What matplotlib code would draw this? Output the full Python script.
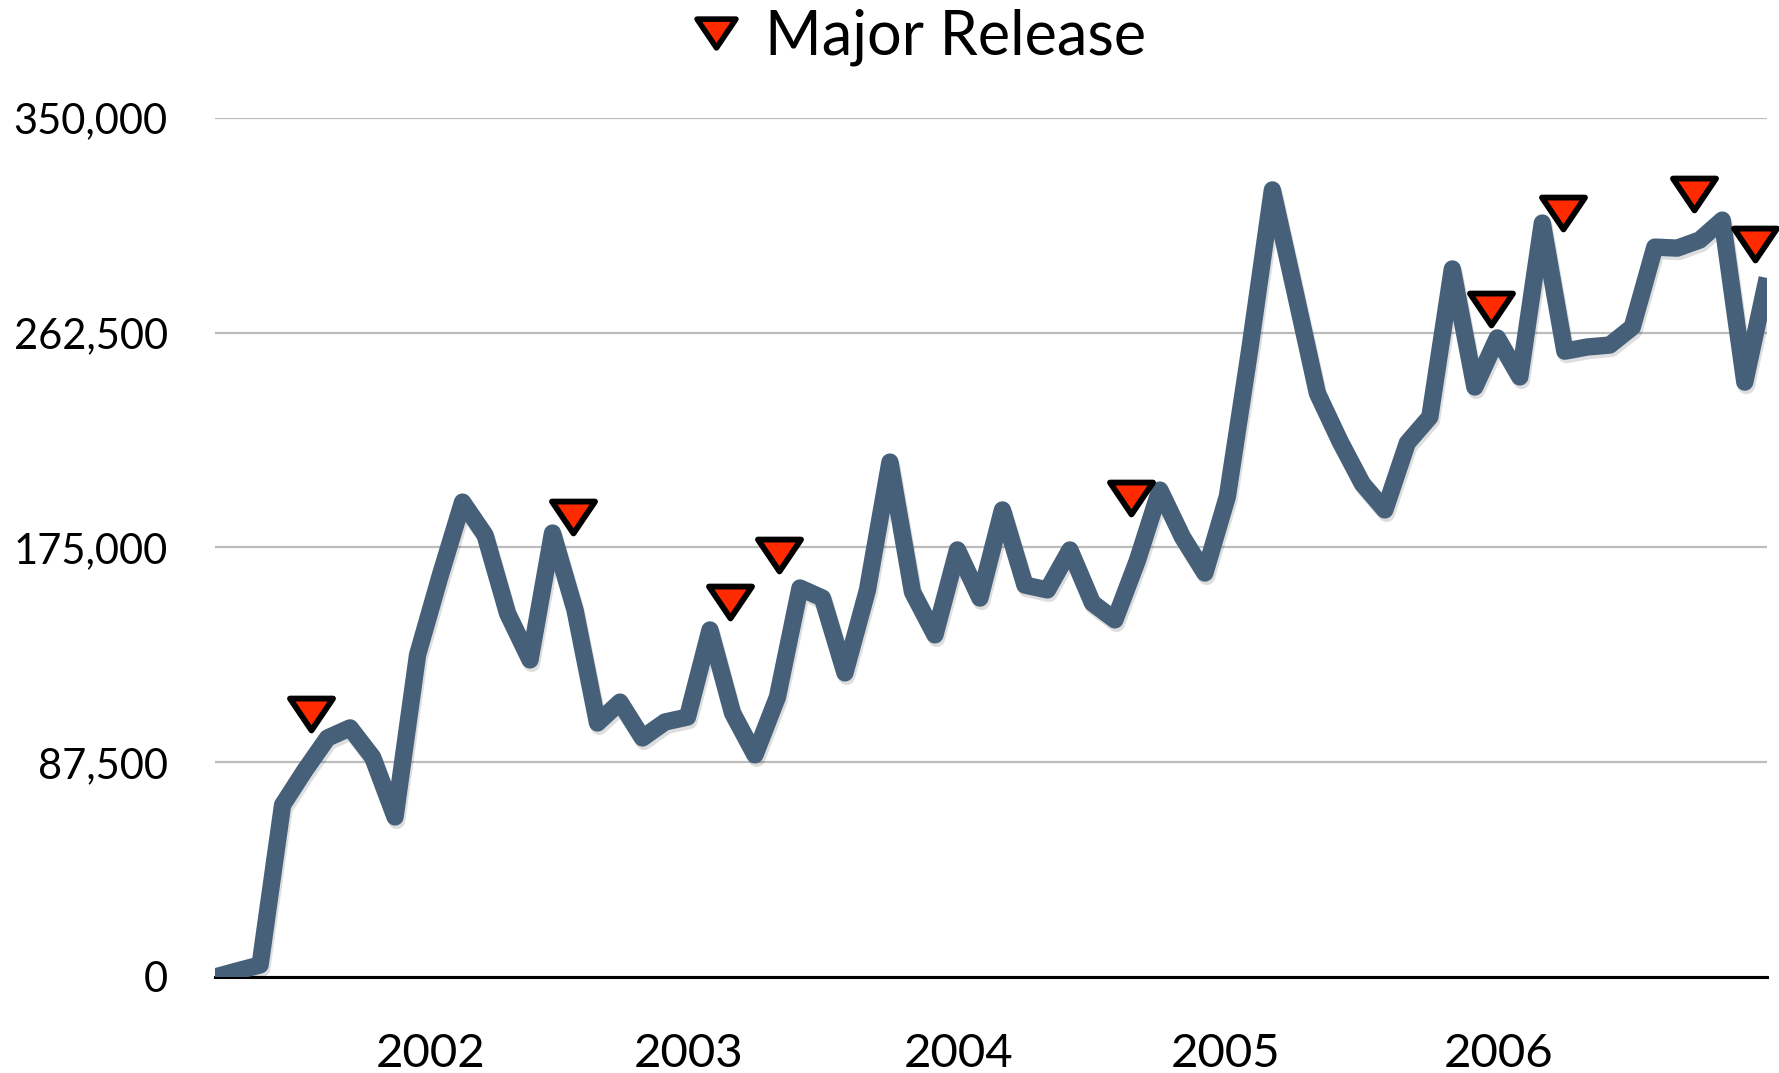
import numpy as np
import matplotlib.pyplot as plt
import matplotlib.patheffects as pe
from matplotlib.path import Path
from matplotlib.lines import Line2D

plt.rcParams['font.family'] = ['Lato', 'DejaVu Sans']

# monthly values (one point per month)
monthly = [0, 2500, 4900, 70100, 84300, 97400, 101500, 89600, 65200, 131200,
           163300, 193500, 180100, 148200, 129200, 180900, 149500, 103500, 112000, 97400,
           103900, 105900, 141400, 107600, 90500, 114100, 158500, 154400, 123900, 157700,
           209800, 156900, 139400, 174000, 154400, 190300, 159700, 157700, 174000, 152400,
           145500, 169700, 198400, 179300, 164600, 195800, 256000, 320700, 279500, 237900,
           218400, 201000, 190300, 217600, 228200, 288500, 240400, 260400, 244500, 307200,
           255000, 256700, 257500, 264800, 297400, 297000, 300300, 308400, 242400, 284800]

# major releases (month position, marker height)
release_pos = [4.27, 15.9, 22.9, 25.05, 40.7, 56.7, 59.9, 65.75, 68.46]
release_val = [107200, 187400, 152600, 172100, 195000, 272200, 311500, 319000, 298500]

year_labels = ['2002', '2003', '2004', '2005', '2006']
year_pos = [9.6, 21.05, 33.05, 44.9, 57.05]

y_ticks = [0, 87500, 175000, 262500, 350000]

line_color = '#46607a'
red = '#ff2a00'

tri = Path([(-1, 0.74), (1, 0.74), (0, -0.74), (-1, 0.74)],
           [Path.MOVETO, Path.LINETO, Path.LINETO, Path.CLOSEPOLY])

fig = plt.figure(figsize=(17.79, 10.73), dpi=100)
ax = fig.add_axes([0.1209, 0.0895, 0.8725, 0.8005])

x = np.arange(len(monthly))
ax.plot(x, monthly, color=line_color, lw=12.5, solid_joinstyle='round',
        solid_capstyle='butt', zorder=3,
        path_effects=[pe.SimpleLineShadow(offset=(1.2, -2.5), shadow_color='k', alpha=0.13),
                      pe.Normal()])

ax.plot(release_pos, release_val, ls='none', marker=tri, ms=31,
        mfc=red, mec='black', mew=4.2, zorder=4, clip_on=False)

ax.set_xlim(0, len(monthly) - 1)
ax.set_ylim(0, 350000)

ax.set_yticks(y_ticks)
ax.set_yticklabels(['{:,}'.format(v) for v in y_ticks], fontsize=30)
ax.set_xticks(year_pos)
ax.set_xticklabels(year_labels, fontsize=34)
ax.tick_params(axis='y', length=0, pad=34)
ax.tick_params(axis='x', length=0, pad=40)

ax.grid(axis='y', color='#bcbcbc', lw=1.6)
ax.set_axisbelow(True)
for s in ['left', 'right', 'top']:
    ax.spines[s].set_visible(False)
ax.spines['bottom'].set_linewidth(2.2)
ax.spines['bottom'].set_color('black')
ax.spines['bottom'].set_zorder(2.5)

handle = Line2D([], [], ls='none', marker=tri, ms=28, mfc=red, mec='black', mew=4)
fig.legend([handle], ['Major Release'], loc='center', bbox_to_anchor=(0.515, 0.9655),
           frameon=False, fontsize=44, handletextpad=0.3, handlelength=1.0)

plt.savefig('out.png', dpi=100)
